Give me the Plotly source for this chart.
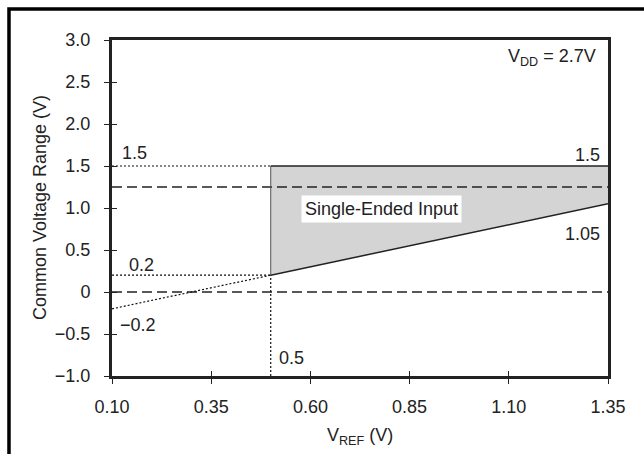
import plotly.graph_objects as go

# ---- data ----
x_tick_vals = [0.10, 0.35, 0.60, 0.85, 1.10, 1.35]
x_tick_text = ["0.10", "0.35", "0.60", "0.85", "1.10", "1.35"]
y_tick_vals = [-1.0, -0.5, 0, 0.5, 1.0, 1.5, 2.0, 2.5, 3.0]
y_tick_text = ["\u22121.0", "\u22120.5", "0", "0.5", "1.0", "1.5", "2.0", "2.5", "3.0"]

region_x = [0.5, 1.35]          # V_REF span of the single-ended region
region_upper = [1.5, 1.5]       # upper bound of common voltage
region_lower = [0.2, 1.05]      # lower bound of common voltage
ext_x = [0.1, 0.5]              # dotted extension of the lower bound
ext_y = [-0.2, 0.2]
dashed_levels = [0.0, 1.25]
x_range = [0.1, 1.35]
y_range = [-1.0, 3.0]

FONT = "Liberation Sans, Arial, Helvetica, sans-serif"
INK = "#222222"
FS = 18

fig = go.Figure()

# shaded region
fig.add_trace(go.Scatter(
    x=[region_x[0], region_x[1], region_x[1], region_x[0], region_x[0]],
    y=[region_lower[0], region_lower[1], region_upper[1], region_upper[0], region_lower[0]],
    fill="toself", fillcolor="#d4d4d4", line=dict(width=0), mode="lines",
    hoverinfo="skip", showlegend=False))

# dashed reference levels
for lv in dashed_levels:
    fig.add_trace(go.Scatter(x=x_range, y=[lv, lv], mode="lines",
                             line=dict(color=INK, width=1.5, dash="10px,5px"),
                             showlegend=False, hoverinfo="skip"))

# dotted guide lines
dot = dict(color="#111111", width=1.2, dash="2px,2px")
fig.add_trace(go.Scatter(x=ext_x, y=ext_y, mode="lines", line=dot, showlegend=False))
fig.add_trace(go.Scatter(x=[x_range[0], region_x[0]], y=[region_upper[0]] * 2, mode="lines", line=dot, showlegend=False))
fig.add_trace(go.Scatter(x=[x_range[0], region_x[0]], y=[region_lower[0]] * 2, mode="lines", line=dot, showlegend=False))
fig.add_trace(go.Scatter(x=[region_x[0]] * 2, y=[y_range[0], region_lower[0]], mode="lines", line=dot, showlegend=False))

# solid boundaries
fig.add_trace(go.Scatter(x=[region_x[0]] * 2, y=[region_lower[0], region_upper[0]], mode="lines",
                         line=dict(color="#555555", width=1), showlegend=False))
fig.add_trace(go.Scatter(x=region_x, y=region_upper, mode="lines",
                         line=dict(color=INK, width=1.3), showlegend=False))
fig.add_trace(go.Scatter(x=region_x, y=region_lower, mode="lines",
                         line=dict(color=INK, width=1.5), showlegend=False))

# invisible trace for inside-tick overlay axes
fig.add_trace(go.Scatter(x=x_range, y=y_range, xaxis="x2", yaxis="y2", mode="lines",
                         line=dict(width=0), showlegend=False, hoverinfo="skip"))

tickfont = dict(family=FONT, size=FS, color=INK)
fig.update_layout(
    width=644, height=454,
    margin=dict(l=112, r=36, t=40, b=78),
    paper_bgcolor="white", plot_bgcolor="white",
    xaxis=dict(range=x_range, tickvals=x_tick_vals, ticktext=x_tick_text,
               ticks="outside", ticklen=5, tickwidth=1, tickcolor=INK,
               showline=True, linewidth=3, linecolor="#222222", mirror=True,
               showgrid=False, zeroline=False, tickfont=tickfont, ticklabelstandoff=7),
    yaxis=dict(range=y_range, tickvals=y_tick_vals, ticktext=y_tick_text,
               ticks="outside", ticklen=5, tickwidth=1, tickcolor=INK,
               showline=True, linewidth=3, linecolor="#222222", mirror=True,
               showgrid=False, zeroline=False, tickfont=tickfont, ticklabelstandoff=10),
    xaxis2=dict(range=x_range, overlaying="x", tickvals=x_tick_vals, ticks="inside",
                ticklen=5, tickwidth=1, tickcolor=INK, showticklabels=False,
                showline=False, showgrid=False, zeroline=False),
    yaxis2=dict(range=y_range, overlaying="y", tickvals=y_tick_vals, ticks="inside",
                ticklen=5, tickwidth=1, tickcolor=INK, showticklabels=False,
                showline=False, showgrid=False, zeroline=False),
    showlegend=False,
)

ann_font = dict(family=FONT, size=FS, color=INK)
anns = [
    dict(x=0.120, y=1.655, text="1.5", xanchor="left"),
    dict(x=0.138, y=0.321, text="0.2", xanchor="left"),
    dict(x=0.116, y=-0.393, text="\u22120.2", xanchor="left"),
    dict(x=0.516, y=-0.786, text="0.5", xanchor="left"),
    dict(x=1.336, y=1.631, text="1.5", xanchor="right"),
    dict(x=1.336, y=0.690, text="1.05", xanchor="right"),
    dict(x=1.326, y=2.786, text="V<sub>DD</sub> = 2.7V", xanchor="right"),
]
for a in anns:
    fig.add_annotation(xref="x", yref="y", yanchor="middle", showarrow=False,
                       font=ann_font, **a)
fig.add_annotation(xref="x", yref="y", x=0.78, y=0.99, text="Single-Ended Input",
                   showarrow=False, font=ann_font, bgcolor="white", borderpad=3,
                   xanchor="center", yanchor="middle")

# axis titles
fig.add_annotation(xref="paper", yref="paper", x=0.5, y=-0.18,
                   text="V<sub>REF</sub> (V)", showarrow=False, font=ann_font,
                   xanchor="center", yanchor="middle")
fig.add_annotation(xref="paper", yref="paper", x=-0.145, y=0.5,
                   text="Common Voltage Range (V)", textangle=-90, showarrow=False,
                   font=ann_font, xanchor="center", yanchor="middle")

# outer figure frame (left and top edges visible)
fig.add_shape(type="path", xref="paper", yref="paper",
              path="M -0.2077,-0.3 L -0.2077,1.0923 L 1.2,1.0923",
              line=dict(color="black", width=3.5))

fig.write_html("out.html", config={"displayModeBar": False},
               post_script="document.body.style.margin='0';document.body.style.overflow='hidden';")
